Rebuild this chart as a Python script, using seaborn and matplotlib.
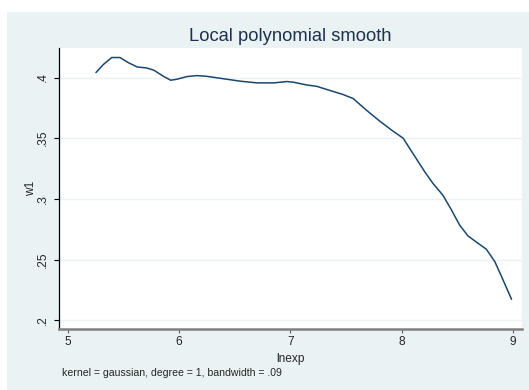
import matplotlib
matplotlib.use("Agg")
import matplotlib.pyplot as plt
import seaborn as sns
import pandas as pd
from matplotlib.patches import Rectangle

# -----------------------
# Data read off the smooth
# -----------------------
lnexp = [5.254, 5.32, 5.395, 5.47, 5.544, 5.625, 5.71, 5.775, 5.86, 5.925,
         5.98, 6.07, 6.16, 6.25, 6.43, 6.55, 6.70, 6.85, 6.97, 7.03,
         7.145, 7.235, 7.35, 7.474, 7.564, 7.684, 7.80, 7.91, 8.013, 8.10,
         8.207, 8.28, 8.37, 8.447, 8.52, 8.596, 8.686, 8.76, 8.836, 8.91, 8.986]
w1 = [0.4041, 0.4107, 0.4165, 0.4165, 0.4123, 0.4087, 0.4079, 0.4060, 0.4010, 0.3978,
      0.3986, 0.4008, 0.4016, 0.4010, 0.3986, 0.3970, 0.3956, 0.3956, 0.3967, 0.3961,
      0.3939, 0.3928, 0.3895, 0.3860, 0.3827, 0.3730, 0.3643, 0.3566, 0.3500, 0.3375,
      0.3223, 0.3128, 0.3030, 0.2908, 0.2784, 0.2694, 0.2634, 0.2585, 0.2483, 0.2332, 0.2173]

x_ticks = [5, 6, 7, 8, 9]
y_ticks = [0.2, 0.25, 0.3, 0.35, 0.4]
y_tick_labels = [".2", ".25", ".3", ".35", ".4"]

df = pd.DataFrame({"lnexp": lnexp, "w1": w1})

sns.set_style("white")
plt.rcParams["font.family"] = ["Liberation Sans", "DejaVu Sans"]

W, H = 529, 390
fig = plt.figure(figsize=(W / 100, H / 100), dpi=100)
fig.patch.set_facecolor("white")
# stata-like graph region (behind the axes)
fig.patches.append(Rectangle((7 / W, 0), 1 - 7 / W, 1 - 12 / H, transform=fig.transFigure,
                             facecolor="#eaf2f3", edgecolor="none", zorder=-10))

ax = fig.add_axes([59 / W, 1 - 329 / H, (522 - 59) / W, (329 - 48.3) / H])
ax.set_facecolor("white")

sns.lineplot(data=df, x="lnexp", y="w1", ax=ax, color="#1a476f", linewidth=1.1)

ax.set_xlim(4.922, 9.08)
ax.set_ylim(0.1928, 0.4241)
ax.set_xticks(x_ticks)
ax.set_xticklabels([str(t) for t in x_ticks], fontsize=8.6)
ax.set_yticks(y_ticks)
ax.set_yticklabels(y_tick_labels, fontsize=8.6, rotation=90, va="center")

for y in y_ticks:
    ax.axhline(y, color="#eaf2f3", linewidth=1.0, zorder=0)

for side in ["top", "right"]:
    ax.spines[side].set_visible(False)
ax.spines["left"].set_color("black")
ax.spines["left"].set_linewidth(0.9)
ax.spines["bottom"].set_color("#808080")
ax.spines["bottom"].set_linewidth(1.8)

ax.tick_params(axis="y", left=True, length=3.6, width=0.8, color="black", pad=4)
ax.tick_params(axis="x", bottom=True, length=3, width=0.8, color="#606060", pad=2)

ax.set_xlabel("lnexp", fontsize=8.6, labelpad=3.5)
ax.set_ylabel("w1", fontsize=8.6, labelpad=-0.5)
ax.set_title("Local polynomial smooth", fontsize=13.2, color="#1e3150", pad=5)

fig.text(62 / W, 1 - 373 / H, "kernel = gaussian, degree = 1, bandwidth = .09",
         fontsize=7.6, va="center", ha="left")

fig.savefig("out.png", dpi=100)
